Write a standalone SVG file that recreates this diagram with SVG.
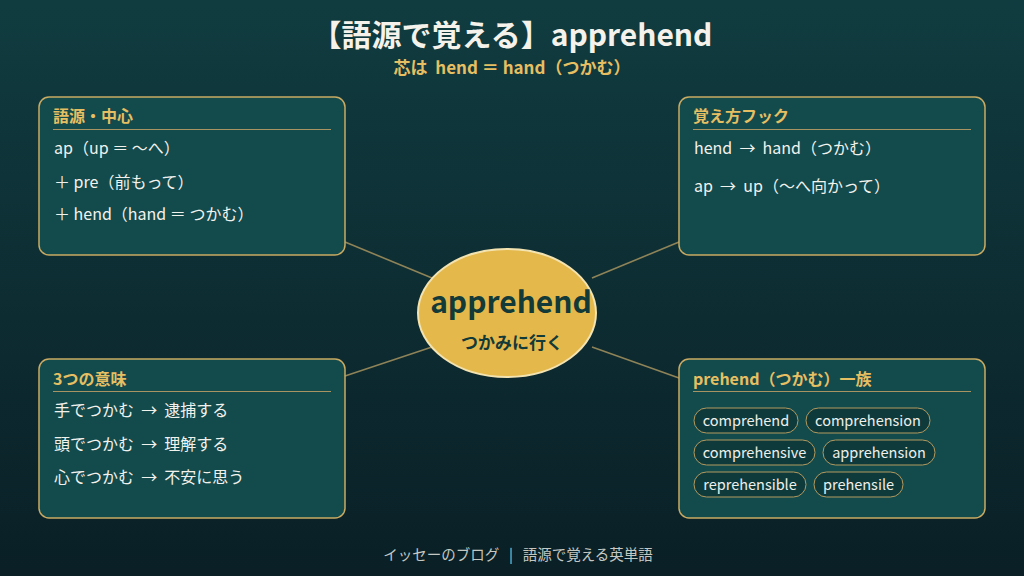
<svg xmlns="http://www.w3.org/2000/svg" width="1024" height="576" viewBox="0 0 1024 576">
<defs>
<linearGradient id="bg" x1="0" y1="0" x2="0" y2="1">
<stop offset="0" stop-color="#103c40"/>
<stop offset="1" stop-color="#0a1f26"/>
</linearGradient>
<style>
text{font-family:"Noto Sans CJK JP","Noto Sans",sans-serif;white-space:pre}
.panel{fill:#134a4c;stroke:#c9aa62;stroke-width:1.5}
.hd{fill:#e6bf62;font-size:16px;font-weight:700}
.div{stroke:#a89462;stroke-width:1}
.it{fill:#f2f2ec;font-size:16px}
.chip{fill:#0f3a3c;stroke:#b39a5e;stroke-width:1}
.ct{fill:#eef0ea;font-size:14.500px;text-anchor:middle}
.con{stroke:#8f8358;stroke-width:1.6;fill:none}
</style>
</defs>
<rect width="1024" height="576" fill="url(#bg)"/>
<text x="512" y="46" text-anchor="middle" fill="#f4f2ea" font-size="30" font-weight="700">【語源で覚える】apprehend</text>
<text x="512" y="74" text-anchor="middle" fill="#e6bf62" font-size="17" font-weight="700" xml:space="preserve">芯は  hend ＝ hand（つかむ）</text>
<g id="connectors">
<line class="con" x1="345" y1="242" x2="432" y2="278"/>
<line class="con" x1="679" y1="242" x2="592" y2="278"/>
<line class="con" x1="345" y1="376" x2="432" y2="347"/>
<line class="con" x1="679" y1="378" x2="592" y2="347"/>
</g>
<g id="node-center">
<ellipse cx="507" cy="313" rx="89" ry="64" fill="#e5b84b" stroke="#f3e3b0" stroke-width="2"/>
<text x="511" y="313" text-anchor="middle" fill="#123a38" font-size="30" font-weight="700">apprehend</text>
<text x="512" y="349" text-anchor="middle" fill="#123a38" font-size="17" font-weight="700">つかみに行く</text>
</g>
<g id="node-gogen">
<rect class="panel" x="39" y="97" width="306" height="158" rx="10"/>
<text class="hd" x="53" y="122">語源・中心</text>
<line class="div" x1="53" y1="129.500" x2="331" y2="129.500"/>
<text class="it" x="54" y="154" xml:space="preserve">ap（up ＝ ～へ）</text>
<text class="it" x="54" y="188" xml:space="preserve">＋ pre（前もって）</text>
<text class="it" x="54" y="220" xml:space="preserve">＋ hend（hand ＝ つかむ）</text>
</g>
<g id="node-hook">
<rect class="panel" x="679" y="97" width="306" height="158" rx="10"/>
<text class="hd" x="693" y="122">覚え方フック</text>
<line class="div" x1="693" y1="129.500" x2="971" y2="129.500"/>
<text class="it" x="694" y="154" xml:space="preserve">hend  →  hand（つかむ）</text>
<text class="it" x="694" y="192" xml:space="preserve">ap  →  up（～へ向かって）</text>
</g>
<g id="node-imi">
<rect class="panel" x="39" y="359" width="306" height="159" rx="10"/>
<text class="hd" x="53" y="385">3つの意味</text>
<line class="div" x1="53" y1="391.500" x2="331" y2="391.500"/>
<text class="it" x="54" y="416" xml:space="preserve">手でつかむ  →  逮捕する</text>
<text class="it" x="54" y="450" xml:space="preserve">頭でつかむ  →  理解する</text>
<text class="it" x="54" y="483" xml:space="preserve">心でつかむ  →  不安に思う</text>
</g>
<g id="node-family">
<rect class="panel" x="679" y="359" width="306" height="159" rx="10"/>
<text class="hd" x="693" y="385">prehend（つかむ）一族</text>
<line class="div" x1="693" y1="391.500" x2="971" y2="391.500"/>
<rect class="chip" x="694" y="408" width="104" height="25" rx="12.500"/>
<text class="ct" x="746" y="426">comprehend</text>
<rect class="chip" x="806" y="408" width="124" height="25" rx="12.500"/>
<text class="ct" x="868" y="426">comprehension</text>
<rect class="chip" x="694" y="440" width="121" height="25" rx="12.500"/>
<text class="ct" x="754.500" y="458">comprehensive</text>
<rect class="chip" x="823" y="440" width="112" height="25" rx="12.500"/>
<text class="ct" x="879" y="458">apprehension</text>
<rect class="chip" x="694" y="472" width="112" height="25" rx="12.500"/>
<text class="ct" x="750" y="490">reprehensible</text>
<rect class="chip" x="814" y="472" width="89" height="25" rx="12.500"/>
<text class="ct" x="858.500" y="490">prehensile</text>
</g>
<text x="518" y="560" text-anchor="middle" fill="#c4c8c2" font-size="14.500" xml:space="preserve">イッセーのブログ   |   語源で覚える英単語</text>
</svg>
